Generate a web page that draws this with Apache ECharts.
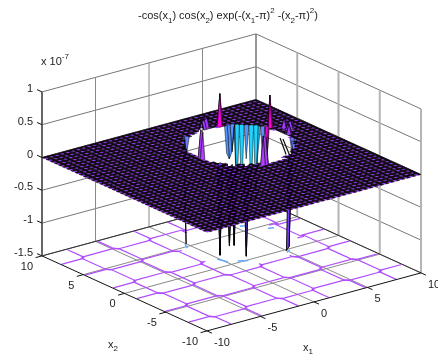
<!DOCTYPE html>
<html><head><meta charset="utf-8">
<style>html,body{margin:0;padding:0;background:#fff}#c{width:438px;height:358px}</style>
<script src="https://cdn.jsdelivr.net/npm/echarts@6/dist/echarts.min.js"></script>
</head><body><div id="c"></div>
<script>
// ---------- values ----------
const x1Ticks = [-10, -5, 0, 5, 10];
const x2Ticks = [-10, -5, 0, 5, 10];
const zTicks = [-1.5, -1, -0.5, 0, 0.5, 1];
const gridStep = 0.25;
const gridCells = 80;

// spikes of the surface around the hole (values in units of 1e-7, everything else is flat at 0)
const spikeX1 = [4.5, 7.25, 1.0, 0.75, 1.0, 4.75, 5.0, 5.25, 5.75, 5.5, 6.0, 6.25, 6.5, 6.5, 6.75, 6.75, 7.0, -0.75, -0.75, 2.0, 2.25, 7.0, 7.0, 3.5, 3.25, 2.75, 3.0, 8.0, 8.25, 7.5, 8.0];
const spikeX2 = [7.25, 4.75, 6.5, 6.5, 6.75, 6.75, 6.75, 6.75, 6.25, 6.5, 6.0, 5.75, 5.5, 5.25, 5.0, 4.75, 4.75, 2.75, 2.5, -1.25, -1.25, 1.5, 1.75, 7.5, 7.5, 7.25, 7.5, 4.0, 3.5, 2.75, 3.5];
const spikeZ  = [0.49, 0.49, -0.33, -0.30, -0.25, -0.40, -0.50, -0.40, -1.10, -1.05, -0.50, -1.10, -1.08, -0.42, -0.40, -0.45, -0.42, 0.43, 0.40, 0.44, 0.40, -0.25, -0.20, 0.15, 0.12, 0.18, 0.12, 0.15, 0.12, 0.15, 0.10];

// spikes at the front edge of the hole that reach below the surface
const frontX1 = [0.0, -0.5, 0.0, 0.25, 1.0, 4.75, 5.0];
const frontX2 = [5.5, 0.75, 0.25, 0.0, -0.5, -0.5, -0.5];
const frontZ  = [-1.50, -1.38, -1.23, -1.22, -1.39, -1.47, -1.42];

// the hole where the surface leaves the z range: row of cells, first and last missing cell
const holeRow  = [35, 36, 37, 38, 39, 40, 41, 42, 43, 44, 45, 46, 47, 48, 49, 50, 51, 52, 53, 54, 55, 56, 57, 58, 59, 60, 61, 62, 63, 64, 65, 66, 67, 68];
const holeFrom = [48, 49, 46, 44, 43, 41, 40, 40, 39, 38, 38, 37, 37, 37, 37, 37, 37, 37, 37, 37, 37, 37, 37, 37, 38, 38, 39, 40, 40, 41, 42, 44, 46, 49];
const holeTo   = [56, 55, 58, 60, 61, 63, 64, 65, 65, 66, 66, 67, 67, 67, 68, 68, 68, 68, 68, 68, 68, 67, 67, 67, 66, 66, 65, 65, 64, 63, 62, 60, 58, 55];

// thin dark slivers at the right of the hole: x1, x2 at the top, x1, x2, z at the tip
const sliverTop = [[6.45, 2.48], [6.49, 2.18]];
const sliverTip = [[6.8, 2.2, -0.25], [6.9, 1.9, -0.25]];

// floor contours
const contourLevels = [-7.85, -4.71, -1.57, 1.57, 4.71, 7.85];
const contourGapLevels = [1.57, 4.71];
const contourGap = [-1.07, 7.2];
const floorArcsX1 = [[-0.15, 0.10], [0.8, 1.5], [-0.5, -0.1], [4.8, 5.3], [5.4, 5.8], [6.8, 7.2]];
const floorArcsX2 = [[1.56, 0.56], [0.27, -0.1], [4.7, 5.5], [-0.5, -0.2], [6.0, 5.8], [4.4, 4.2]];

// ---------- projection to the page plane ----------
const zFloor = -1.5, zTop = 1;
function project(x1, x2, z) {
  return [231.5 + 10.7 * x1 - 8.25 * x2, 166 - 2.9 * x1 - 3.75 * x2 - 65.6 * z];
}
const COOL = [[-1.5,[0,255,255]],[-1,[40,200,255]],[-0.2,[110,120,255]],[0,[153,60,255]],[0.45,[175,60,255]],[0.47,[255,0,225]],[1,[255,0,225]]];
function coolColor(z) {
  let k = 0;
  while (k < COOL.length - 2 && z > COOL[k + 1][0]) k++;
  const a = COOL[k], b = COOL[k + 1];
  const t = Math.max(0, Math.min(1, (z - a[0]) / (b[0] - a[0])));
  const c = a[1].map((v, n) => Math.round(v + (b[1][n] - v) * t));
  return 'rgb(' + c.join(',') + ')';
}

// ---------- surface cells ----------
const heights = {}, frontKeys = {};
const keyOf = (a, b) => Math.round((a + 10) / gridStep) + ',' + Math.round((b + 10) / gridStep);
spikeX1.forEach((v, n) => { heights[keyOf(v, spikeX2[n])] = spikeZ[n]; });
frontX1.forEach((v, n) => { const k = keyOf(v, frontX2[n]); heights[k] = frontZ[n]; frontKeys[k] = true; });
const hAt = (i, j) => heights[i + ',' + j] || 0;
const isHole = (i, j) => {
  const r = holeRow.indexOf(j);
  return r >= 0 && i >= holeFrom[r] && i <= holeTo[r];
};
const cells = [];
for (let j = 0; j < gridCells; j++) for (let i = 0; i < gridCells; i++) if (!isHole(i, j)) cells.push([i, j]);
cells.sort((a, b) => (2.9 * b[0] + 3.75 * b[1]) - (2.9 * a[0] + 3.75 * a[1]));

// ---------- frame ----------
const GRID = '#8a8a8a', WALL = '#b4b4b4', DARK = '#111';
const segs = [];
function seg(a, b, color, width) { segs.push({ a, b, color, width }); }
zTicks.forEach(z => {
  seg([-10, 10, z], [10, 10, z], '#777', 1);
  seg([10, 10, z], [10, -10, z], '#777', 1);
});
x1Ticks.forEach(x => {
  if (Math.abs(x) < 10) {
    seg([x, 10, zFloor], [x, 10, zTop], GRID, 1);
    seg([x, -10, zFloor], [x, 10, zFloor], GRID, 1);
  }
});
x2Ticks.forEach(x => {
  if (Math.abs(x) < 10) {
    seg([10, x, zFloor], [10, x, zTop], WALL, 2);
    seg([-10, x, zFloor], [10, x, zFloor], GRID, 1);
  }
});
seg([10, 10, zFloor], [10, 10, zTop], '#777', 1.5);
seg([10, -10, zFloor], [10, -10, zTop], WALL, 2);
seg([-10, 10, zFloor], [10, 10, zFloor], '#333', 1);
seg([10, 10, zFloor], [10, -10, zFloor], '#333', 1);
seg([-10, 10, zFloor], [-10, 10, zTop], '#666', 2);
const frameFront = [];
frameFront.push({ a: [-10, 10, zFloor], b: [-10, -10, zFloor] }, { a: [-10, -10, zFloor], b: [10, -10, zFloor] });
zTicks.forEach(z => frameFront.push({ a: [-10, 10, z], b: [-10, 10.6, z] }));
x1Ticks.forEach(x => frameFront.push({ a: [x, -10, zFloor], b: [x, -10.6, zFloor] }));
x2Ticks.forEach(x => frameFront.push({ a: [-10, x, zFloor], b: [-10.6, x, zFloor] }));

// ---------- floor contours ----------
const contourPolys = [];
function addContour(level, from, to, makePoint) {
  const stops = [from].concat(contourLevels.filter(c => c > from && c < to), [to]);
  const pts = [];
  for (let k = 0; k < stops.length - 1; k++) {
    const off = (k % 2 ? 0.14 : -0.14) * (contourLevels.indexOf(level) % 2 ? 1 : -1);
    pts.push(makePoint(level + off, stops[k] + 0.05), makePoint(level + off, stops[k + 1] - 0.05));
  }
  contourPolys.push(pts);
}
contourLevels.forEach(level => {
  const ranges = contourGapLevels.indexOf(level) >= 0 ? [[-10, contourGap[0]], [contourGap[1], 10]] : [[-10, 10]];
  ranges.forEach(r => {
    addContour(level, r[0], r[1], (a, b) => [a, b]);
    addContour(level, r[0], r[1], (a, b) => [b, a]);
  });
});

// ---------- series ----------
function lineEl(api, a, b, color, width) {
  const p = api.coord(project(a[0], a[1], a[2])), q = api.coord(project(b[0], b[1], b[2]));
  return { type: 'line', shape: { x1: p[0], y1: p[1], x2: q[0], y2: q[1] }, style: { stroke: color, lineWidth: width, fill: null } };
}
function custom(data, renderItem) {
  return { type: 'custom', coordinateSystem: 'cartesian2d', silent: true, animation: false, progressive: 0, clip: false,
           data: data.map((_, n) => [n]), encode: { x: 0, y: 0 }, renderItem };
}
const TICK_FONT = '11px "Liberation Sans", Arial, sans-serif';
const tickLabels = [];
zTicks.forEach(z => tickLabels.push({ at: [-10, 10, z], dx: -9, dy: -3, text: String(z), align: 'right' }));
x1Ticks.forEach(x => tickLabels.push({ at: [x, -10, zFloor], dx: 7, dy: 12, text: String(x), align: 'left' }));
x2Ticks.forEach(x => tickLabels.push({ at: [-10, x, zFloor], dx: -9, dy: 11, text: String(x), align: 'right' }));

const option = {
  animation: false,
  backgroundColor: '#fff',
  grid: { left: 0, right: 0, top: 0, bottom: 0 },
  xAxis: { type: 'value', min: 0, max: 438, show: false },
  yAxis: { type: 'value', min: 0, max: 358, inverse: true, show: false },
  graphic: [
    { type: 'text', left: 138, top: 7, silent: true, style: {
      text: '{a|-cos(x}{s|1}{a|) cos(x}{s|2}{a|) exp(-(x}{s|1}{a|-π)}{t|2}{a| -(x}{s|2}{a|-π)}{t|2}{a|)}',
      rich: {
        a: { font: '11px "Liberation Sans"', fill: '#222', lineHeight: 18, verticalAlign: 'middle' },
        s: { font: '8px "Liberation Sans"', fill: '#222', lineHeight: 18, verticalAlign: 'bottom' },
        t: { font: '8px "Liberation Sans"', fill: '#222', lineHeight: 18, verticalAlign: 'top' }
      } } },
    { type: 'text', left: 41, top: 53, silent: true, style: {
      text: '{a|x 10}{t|-7}',
      rich: {
        a: { font: '11px "Liberation Sans"', fill: '#222', lineHeight: 18, verticalAlign: 'middle' },
        t: { font: '8px "Liberation Sans"', fill: '#222', lineHeight: 18, verticalAlign: 'top' }
      } } },
    { type: 'text', left: 303, top: 342, silent: true, style: {
      text: '{a|x}{s|1}',
      rich: {
        a: { font: '11px "Liberation Sans"', fill: '#222', lineHeight: 16, verticalAlign: 'middle' },
        s: { font: '8px "Liberation Sans"', fill: '#222', lineHeight: 16, verticalAlign: 'bottom' }
      } } },
    { type: 'text', left: 108, top: 339, silent: true, style: {
      text: '{a|x}{s|2}',
      rich: {
        a: { font: '11px "Liberation Sans"', fill: '#222', lineHeight: 16, verticalAlign: 'middle' },
        s: { font: '8px "Liberation Sans"', fill: '#222', lineHeight: 16, verticalAlign: 'bottom' }
      } } }
  ],
  series: [
    custom(segs, (p, api) => { const s = segs[p.dataIndex]; return lineEl(api, s.a, s.b, s.color, s.width); }),
    custom(contourPolys, (p, api) => ({
      type: 'polyline',
      shape: { points: contourPolys[p.dataIndex].map(q => api.coord(project(q[0], q[1], zFloor))) },
      style: { stroke: '#b04dff', lineWidth: 1.2, fill: null }
    })),
    custom(floorArcsX1, (p, api) => ({
      type: 'polyline',
      shape: { points: floorArcsX1[p.dataIndex].map((v, n) => api.coord(project(v, floorArcsX2[p.dataIndex][n], zFloor))) },
      style: { stroke: '#66aaff', lineWidth: 1.5, fill: null }
    })),
    custom(frameFront, (p, api) => { const s = frameFront[p.dataIndex]; return lineEl(api, s.a, s.b, DARK, 1); }),
    custom(cells, (p, api) => {
      const i = cells[p.dataIndex][0], j = cells[p.dataIndex][1];
      const corners = [[i, j], [i + 1, j], [i + 1, j + 1], [i, j + 1]];
      let peak = 0, front = false;
      const pts = corners.map(c => {
        const z = hAt(c[0], c[1]);
        if (frontKeys[c[0] + ',' + c[1]]) front = true;
        if (Math.abs(z) > Math.abs(peak)) peak = z;
        return api.coord(project(-10 + c[0] * gridStep, -10 + c[1] * gridStep, z));
      });
      if (peak === 0) {
        // the fine mesh reads as near-black with a lattice of bright purple points
        const bright = i % 2 === 0 && j % 2 === 0;
        return { type: 'polygon', shape: { points: pts }, style: bright
          ? { fill: '#a030ff', stroke: null }
          : { fill: '#0a0410', stroke: '#0a0410', lineWidth: 0.5 } };
      }
      return { type: 'polygon', shape: { points: pts }, style: front
        ? { fill: '#7a3cff', stroke: '#000', lineWidth: 0.9 }
        : { fill: coolColor(peak), stroke: '#000', lineWidth: 0.5 } };
    }),
    custom(sliverTop, (p, api) => {
      const a = sliverTop[p.dataIndex], b = sliverTip[p.dataIndex];
      return lineEl(api, [a[0], a[1], 0], b, '#111', 1.2);
    }),
    custom(tickLabels, (p, api) => {
      const l = tickLabels[p.dataIndex], q = api.coord(project(l.at[0], l.at[1], l.at[2]));
      return { type: 'text', style: { text: l.text, x: q[0] + l.dx, y: q[1] + l.dy, font: TICK_FONT, fill: '#222', align: l.align, verticalAlign: 'middle' } };
    })
  ]
};
echarts.init(document.getElementById('c'), null, { renderer: 'canvas' }).setOption(option);
</script></body></html>
